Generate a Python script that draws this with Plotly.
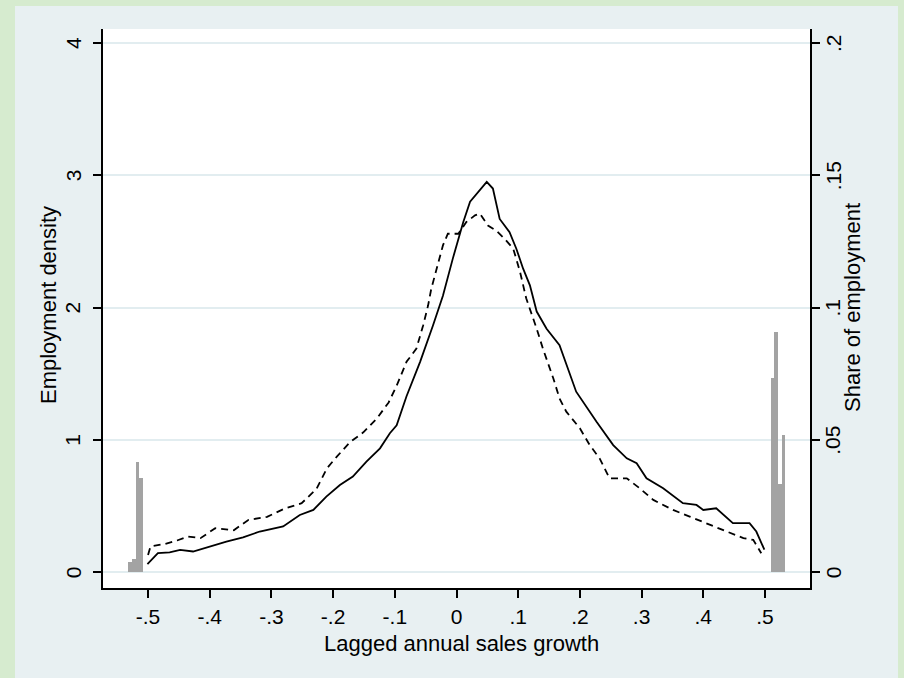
import plotly.graph_objects as go

# Kernel-density style curves (employment density, left axis)
solid_x = [-0.501, -0.484, -0.465, -0.448, -0.427, -0.40, -0.373, -0.346, -0.319, -0.281,
           -0.254, -0.232, -0.211, -0.189, -0.168, -0.146, -0.124, -0.108, -0.097, -0.081,
           -0.059, -0.038, -0.022, -0.006, 0.011, 0.022, 0.035, 0.049, 0.059, 0.07,
           0.086, 0.097, 0.108, 0.119, 0.13, 0.146, 0.167, 0.184, 0.194, 0.227,
           0.254, 0.276, 0.292, 0.308, 0.335, 0.367, 0.389, 0.40, 0.421, 0.448,
           0.475, 0.486, 0.499]
solid_y = [0.06, 0.143, 0.15, 0.168, 0.156, 0.194, 0.23, 0.262, 0.307, 0.345,
           0.432, 0.47, 0.571, 0.659, 0.722, 0.835, 0.936, 1.05, 1.11, 1.33,
           1.59, 1.866, 2.09, 2.37, 2.647, 2.8, 2.873, 2.95, 2.9, 2.67,
           2.57, 2.445, 2.294, 2.168, 1.97, 1.84, 1.715, 1.49, 1.364, 1.137,
           0.96, 0.86, 0.823, 0.709, 0.634, 0.521, 0.508, 0.47, 0.483, 0.37,
           0.37, 0.307, 0.17]

dash_x = [-0.50, -0.496, -0.472, -0.453, -0.435, -0.415, -0.391, -0.361, -0.337, -0.307,
          -0.28, -0.251, -0.227, -0.21, -0.194, -0.173, -0.151, -0.129, -0.11, -0.097,
          -0.081, -0.065, -0.054, -0.046, -0.041, -0.032, -0.022, -0.014, 0.003, 0.016,
          0.03, 0.038, 0.051, 0.065, 0.078, 0.092, 0.103, 0.113, 0.119, 0.13,
          0.14, 0.157, 0.167, 0.178, 0.20, 0.216, 0.232, 0.248, 0.276, 0.297,
          0.319, 0.351, 0.378, 0.41, 0.438, 0.465, 0.481, 0.494]
dash_y = [0.13, 0.194, 0.214, 0.239, 0.269, 0.257, 0.332, 0.317, 0.395, 0.418,
          0.478, 0.521, 0.629, 0.785, 0.873, 0.981, 1.057, 1.162, 1.283, 1.409,
          1.59, 1.69, 1.866, 2.017, 2.14, 2.29, 2.47, 2.558, 2.558, 2.647,
          2.697, 2.71, 2.62, 2.58, 2.52, 2.445, 2.27, 2.07, 1.99, 1.84,
          1.69, 1.464, 1.313, 1.213, 1.087, 0.96, 0.86, 0.709, 0.709, 0.634,
          0.546, 0.47, 0.42, 0.357, 0.307, 0.257, 0.244, 0.143]

# Share of employment bars (right axis)
bar_x = [-0.529, -0.523, -0.517, -0.511, 0.512, 0.518, 0.524, 0.530]
bar_y = [0.004, 0.005, 0.0415, 0.0357, 0.0735, 0.0906, 0.0333, 0.052]

x_ticks = [-0.5, -0.4, -0.3, -0.2, -0.1, 0, 0.1, 0.2, 0.3, 0.4, 0.5]
x_labels = ["-.5", "-.4", "-.3", "-.2", "-.1", "0", ".1", ".2", ".3", ".4", ".5"]
y_ticks = [0, 1, 2, 3, 4]
y_labels = ["0", "1", "2", "3", "4"]
y2_ticks = [0, 0.05, 0.1, 0.15, 0.2]
y2_labels = ["0", ".05", ".1", ".15", ".2"]

x_title = "Lagged annual sales growth"
y_title = "Employment density"
y2_title = "Share of employment"

FONT = "Liberation Sans, Arial, sans-serif"
FS = 22
TFS = 21
GREEN = "#d6ebcf"
BLUE = "#e8f0f2"

fig = go.Figure()
fig.add_trace(go.Bar(x=bar_x, y=bar_y, width=0.006, yaxis="y2",
                     marker=dict(color="#a3a3a3", line=dict(width=0)),
                     showlegend=False))
fig.add_trace(go.Scatter(x=solid_x, y=solid_y, mode="lines",
                         line=dict(color="black", width=1.8), showlegend=False))
fig.add_trace(go.Scatter(x=dash_x, y=dash_y, mode="lines",
                         line=dict(color="black", width=1.8, dash="7px,5px"),
                         showlegend=False))

L, R, T, B = 103, 94, 29, 90
W, H = 904, 678
pw, ph = W - L - R, H - T - B

def px_to_paper_x(px):
    return (px - L) / pw

def py_to_paper_y(py):
    return (H - B - py) / ph

shapes = []
for (x0, x1, y0, y1) in [(0, 15, 0, H), (898, W, 0, H), (0, W, 0, 6)]:
    shapes.append(dict(type="rect", xref="paper", yref="paper",
                       x0=px_to_paper_x(x0), x1=px_to_paper_x(x1),
                       y0=py_to_paper_y(y1), y1=py_to_paper_y(y0),
                       fillcolor=GREEN, line=dict(width=0), layer="below"))

annotations = [
    dict(text=x_title, xref="paper", yref="paper", x=px_to_paper_x(461),
         y=py_to_paper_y(643), showarrow=False, xanchor="center", yanchor="middle",
         font=dict(size=FS)),
    dict(text=y_title, xref="paper", yref="paper", x=px_to_paper_x(48),
         y=py_to_paper_y(305), showarrow=False, xanchor="center", yanchor="middle",
         textangle=-90, font=dict(size=FS)),
    dict(text=y2_title, xref="paper", yref="paper", x=px_to_paper_x(852),
         y=py_to_paper_y(308), showarrow=False, xanchor="center", yanchor="middle",
         textangle=-90, font=dict(size=FS)),
]
# rotated tick labels for the two vertical axes, placed on the axes' own scales
for v, t in zip(y_ticks, y_labels):
    annotations.append(dict(text=t, xref="paper", yref="y", x=px_to_paper_x(73), y=v,
                            showarrow=False, xanchor="center", yanchor="middle",
                            textangle=-90, font=dict(size=TFS)))
for v, t in zip(y2_ticks, y2_labels):
    annotations.append(dict(text=t, xref="paper", yref="y2", x=px_to_paper_x(833), y=v,
                            showarrow=False, xanchor="center", yanchor="middle",
                            textangle=-90, font=dict(size=TFS)))

axis_common = dict(showline=True, linecolor="black", linewidth=1.5, ticks="outside",
                   ticklen=8, tickwidth=1.5, tickcolor="black", zeroline=False,
                   tickfont=dict(size=TFS))

fig.update_layout(
    width=W, height=H,
    margin=dict(l=L, r=R, t=T, b=B, pad=0),
    paper_bgcolor=BLUE, plot_bgcolor="white",
    font=dict(family=FONT, size=FS, color="black"),
    shapes=shapes, annotations=annotations,
    bargap=0,
    xaxis=dict(range=[-0.573, 0.573], tickvals=x_ticks, ticktext=x_labels,
               showgrid=False, ticklabelstandoff=1, **axis_common),
    yaxis=dict(range=[-0.12, 4.106], tickvals=y_ticks, showticklabels=False,
               showgrid=True, gridcolor="#e2edf0", gridwidth=1.5, **axis_common),
    yaxis2=dict(range=[-0.006, 0.2053], tickvals=y2_ticks, showticklabels=False,
                overlaying="y", side="right", showgrid=False, **axis_common),
)

fig.write_html("out.html")
